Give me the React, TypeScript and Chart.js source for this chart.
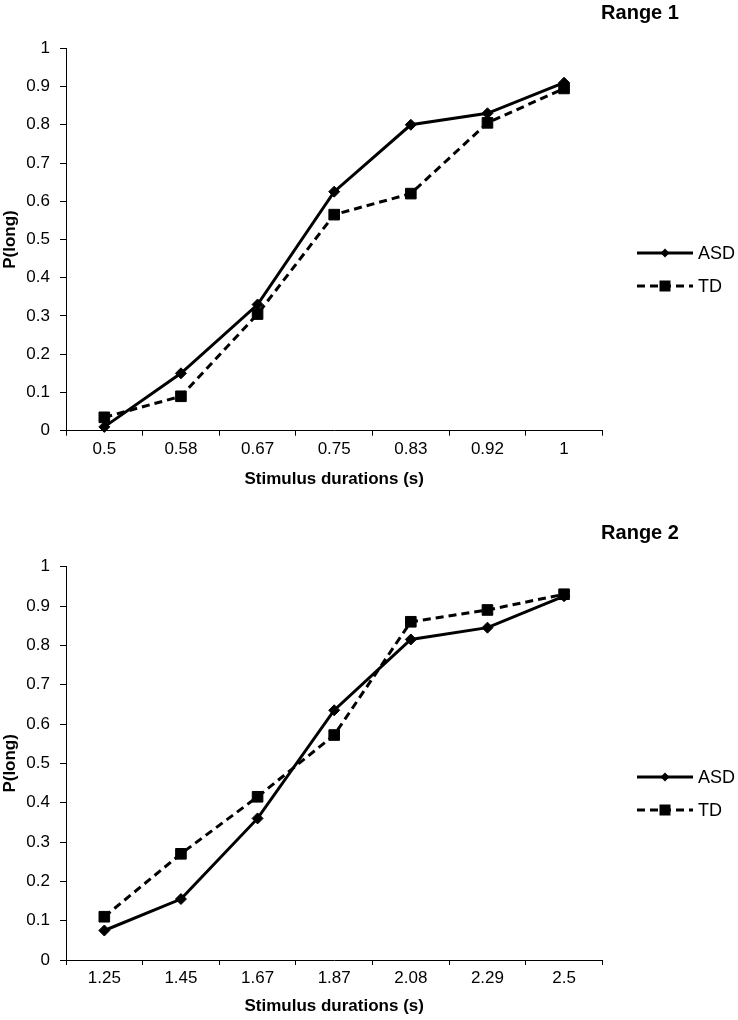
import React, { useEffect, useRef } from 'react';
import { Chart, registerables } from 'chart.js';

Chart.register(...registerables);

// ---------- data ----------
const range1Durations = ['0.5', '0.58', '0.67', '0.75', '0.83', '0.92', '1'];
const range1ASD = [0.01, 0.15, 0.33, 0.625, 0.8, 0.83, 0.91];
const range1TD = [0.035, 0.09, 0.305, 0.565, 0.62, 0.805, 0.895];

const range2Durations = ['1.25', '1.45', '1.67', '1.87', '2.08', '2.29', '2.5'];
const range2ASD = [0.075, 0.155, 0.36, 0.635, 0.815, 0.845, 0.925];
const range2TD = [0.11, 0.27, 0.415, 0.572, 0.86, 0.89, 0.93];

const seriesNames = ['ASD', 'TD'];
const panelTitles = ['Range 1', 'Range 2'];
const xAxisTitle = 'Stimulus durations (s)';
const yAxisTitle = 'P(long)';

const FONT = '"Liberation Sans", Arial, Helvetica, sans-serif';

type Panel = {
  labels: string[];
  asd: number[];
  td: number[];
  title: string;
  top: number;
  xHeight: number;
  xTitlePad: number;
  titleY: number;
  legendY: number;
};

const overlayPlugin = {
  id: 'overlay',
  afterDraw(chart: any, _args: any, opts: any) {
    const ctx = chart.ctx as CanvasRenderingContext2D;
    ctx.save();
    ctx.fillStyle = '#000';
    ctx.font = `bold 20px ${FONT}`;
    ctx.textAlign = 'center';
    ctx.textBaseline = 'middle';
    ctx.fillText(opts.title, opts.titleX, opts.titleY);

    chart.data.datasets.forEach((ds: any, i: number) => {
      const y = opts.legendY + i * opts.legendGap;
      const x0 = opts.legendX0;
      const x1 = opts.legendX1;
      const xm = (x0 + x1) / 2;
      ctx.beginPath();
      ctx.lineWidth = ds.borderWidth;
      ctx.strokeStyle = ds.borderColor;
      ctx.setLineDash(ds.borderDash || []);
      ctx.moveTo(x0, y);
      ctx.lineTo(x1, y);
      ctx.stroke();
      ctx.setLineDash([]);
      ctx.fillStyle = ds.pointBackgroundColor;
      ctx.beginPath();
      if (ds.pointStyle === 'rect') {
        const s = ds.legendMarker;
        ctx.rect(xm - s, y - s, 2 * s, 2 * s);
      } else {
        const r = ds.legendMarker;
        ctx.moveTo(xm, y - r);
        ctx.lineTo(xm + r, y);
        ctx.lineTo(xm, y + r);
        ctx.lineTo(xm - r, y);
        ctx.closePath();
      }
      ctx.fill();
      ctx.fillStyle = '#000';
      ctx.font = `18px ${FONT}`;
      ctx.textAlign = 'left';
      ctx.textBaseline = 'middle';
      ctx.fillText(ds.label, opts.legendTextX, y + 1);
    });
    ctx.restore();
  },
};

function PanelChart({ panel }: { panel: Panel }) {
  const ref = useRef<HTMLCanvasElement | null>(null);
  useEffect(() => {
    if (!ref.current) return;
    const chart = new Chart(ref.current, {
      type: 'line',
      data: {
        labels: panel.labels,
        datasets: [
          {
            label: seriesNames[0],
            data: panel.asd,
            borderColor: '#000',
            backgroundColor: '#000',
            pointBackgroundColor: '#000',
            pointBorderColor: '#000',
            borderWidth: 3,
            pointStyle: 'rectRot',
            pointRadius: 5.5,
            pointBorderWidth: 1,
            tension: 0,
            clip: false,
            legendMarker: 4.5,
          } as any,
          {
            label: seriesNames[1],
            data: panel.td,
            borderColor: '#000',
            backgroundColor: '#000',
            pointBackgroundColor: '#000',
            pointBorderColor: '#000',
            borderWidth: 3,
            borderDash: [8, 5],
            pointStyle: 'rect',
            pointRadius: 7.5,
            pointBorderWidth: 1,
            tension: 0,
            clip: false,
            legendMarker: 5.5,
          } as any,
        ],
      },
      options: {
        animation: false,
        responsive: false,
        maintainAspectRatio: false,
        devicePixelRatio: 1,
        layout: { padding: { left: 0, right: 738 - 602.4, top: panel.top, bottom: 0 } },
        plugins: {
          legend: { display: false },
          tooltip: { enabled: false },
          title: { display: false },
          overlay: {
            title: panel.title,
            titleX: 640,
            titleY: panel.titleY,
            legendY: panel.legendY,
            legendGap: 33,
            legendX0: 637,
            legendX1: 693,
            legendTextX: 698,
          },
        } as any,
        scales: {
          x: {
            type: 'category',
            offset: true,
            grid: {
              display: true,
              offset: true,
              drawOnChartArea: false,
              drawTicks: true,
              tickLength: 5,
              color: '#000',
              tickColor: '#000',
            },
            border: { display: true, color: '#000', width: 1 },
            ticks: {
              color: '#000',
              font: { family: FONT, size: 17 },
              padding: 3,
              maxRotation: 0,
              autoSkip: false,
            },
            title: {
              display: true,
              text: xAxisTitle,
              color: '#000',
              font: { family: FONT, size: 17, weight: 'bold' },
              padding: { top: 0, bottom: panel.xTitlePad },
            },
            afterFit: (s: any) => {
              s.height = panel.xHeight;
            },
          },
          y: {
            min: 0,
            max: 1,
            grid: {
              display: true,
              drawOnChartArea: false,
              drawTicks: true,
              tickLength: 6,
              color: '#000',
              tickColor: '#000',
            },
            border: { display: true, color: '#000', width: 1 },
            ticks: {
              stepSize: 0.1,
              color: '#000',
              font: { family: FONT, size: 17 },
              padding: 10,
              callback: (v: any) => String(Math.round(Number(v) * 10) / 10),
            },
            title: {
              display: true,
              text: yAxisTitle,
              color: '#000',
              font: { family: FONT, size: 17, weight: 'bold' },
              padding: { top: 0, bottom: 0 },
            },
            afterFit: (s: any) => {
              s.width = 66;
            },
          },
        },
      } as any,
      plugins: [overlayPlugin as any],
    });
    return () => chart.destroy();
  }, [panel]);
  return <canvas ref={ref} width={738} height={510} style={{ display: 'block', width: 738, height: 510 }} />;
}

const panels: Panel[] = [
  {
    labels: range1Durations,
    asd: range1ASD,
    td: range1TD,
    title: panelTitles[0],
    top: 48.3,
    xHeight: 510 - 430.7,
    xTitlePad: 20.8,
    titleY: 13,
    legendY: 253,
  },
  {
    labels: range2Durations,
    asd: range2ASD,
    td: range2TD,
    title: panelTitles[1],
    top: 566.7 - 510,
    xHeight: 510 - 450,
    xTitlePad: 3.5,
    titleY: 533 - 510,
    legendY: 777 - 510,
  },
];

export default function App() {
  useEffect(() => {
    document.body.style.margin = '0';
    document.body.style.background = '#fff';
  }, []);
  return (
    <div style={{ width: 738, height: 1020, background: '#fff', margin: 0 }}>
      <PanelChart panel={panels[0]} />
      <PanelChart panel={panels[1]} />
    </div>
  );
}
